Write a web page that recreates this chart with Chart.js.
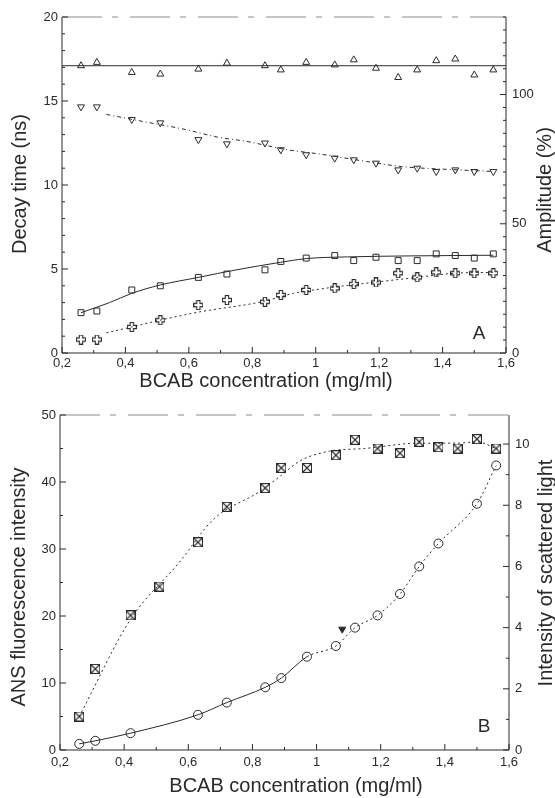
<!DOCTYPE html>
<html>
<head>
<meta charset="utf-8">
<script src="https://cdn.jsdelivr.net/npm/chart.js@4.4.1/dist/chart.umd.min.js"></script>
<style>
  body { margin: 0; background: #fff; }
  canvas { display: block; }
</style>
</head>
<body>
<canvas id="chartA" width="555" height="399"></canvas>
<canvas id="chartB" width="555" height="399"></canvas>
<script>
// concentrations (mg/ml), shared by both panels
const conc = [0.26, 0.31, 0.42, 0.51, 0.63, 0.72, 0.84, 0.89, 0.97, 1.06, 1.12, 1.19, 1.26, 1.32, 1.38, 1.44, 1.50, 1.56];

// panel A - decay times (ns)
const upTri = [17.1, 17.3, 16.7, 16.6, 16.9, 17.25, 17.1, 16.85, 17.3, 17.15, 17.45, 16.95, 16.4, 16.85, 17.4, 17.5, 16.55, 16.85];
const downTri = [14.65, 14.65, 13.9, 13.7, 12.7, 12.45, 12.5, 12.1, 11.8, 11.6, 11.5, 11.3, 10.9, 11.0, 10.8, 10.9, 10.8, 10.8];
const squares = [2.4, 2.5, 3.75, 4.0, 4.5, 4.7, 4.95, 5.45, 5.65, 5.8, 5.5, 5.7, 5.5, 5.5, 5.9, 5.8, 5.65, 5.9];
const crosses = [0.8, 0.8, 1.55, 1.95, 2.85, 3.15, 3.05, 3.45, 3.75, 3.85, 4.1, 4.2, 4.75, 4.5, 4.8, 4.75, 4.75, 4.75];

// panel A - fitted curves
const fitUpX = [0.2, 1.6];
const fitUpY = [17.1, 17.1];
const fitDownX = [0.34, 0.45, 0.59, 0.69, 0.78, 0.91, 1.01, 1.16, 1.27, 1.45, 1.56];
const fitDownY = [14.2, 13.8, 13.3, 12.85, 12.6, 12.1, 11.85, 11.4, 11.1, 10.9, 10.8];
const fitSqX = [0.26, 0.35, 0.42, 0.51, 0.63, 0.75, 0.89, 0.97, 1.1, 1.3, 1.56];
const fitSqY = [2.4, 3.0, 3.55, 4.05, 4.5, 4.95, 5.4, 5.62, 5.72, 5.78, 5.82];
const fitCrX = [0.34, 0.42, 0.52, 0.635, 0.83, 0.93, 1.03, 1.18, 1.32, 1.44, 1.56];
const fitCrY = [1.2, 1.55, 2.0, 2.45, 3.05, 3.55, 3.85, 4.2, 4.5, 4.75, 4.8];

// panel B - ANS fluorescence (left axis) and scattered light (right axis)
const ansFluo = [5.0, 12.1, 20.1, 24.4, 31.0, 36.3, 39.1, 42.1, 42.1, 44.0, 46.3, 45.0, 44.3, 46.0, 45.2, 45.0, 46.4, 45.0];
const fitAnsX = [0.26, 0.42, 0.57, 0.68, 0.82, 0.89, 0.95, 1.04, 1.15, 1.32, 1.44, 1.50, 1.56];
const fitAnsY = [5.0, 19.5, 27.9, 34.5, 38.5, 41.0, 43.2, 44.6, 45.0, 45.8, 45.8, 46.0, 45.0];
const scatX = [0.26, 0.31, 0.42, 0.63, 0.72, 0.84, 0.89, 0.97, 1.06, 1.12, 1.19, 1.26, 1.32, 1.38, 1.50, 1.56];
const scatY = [0.2, 0.3, 0.55, 1.15, 1.55, 2.05, 2.35, 3.05, 3.4, 4.0, 4.4, 5.1, 6.0, 6.75, 8.05, 9.3];
const filledX = [1.08];
const filledY = [3.95];

// axis ticks
const xTicks = [0.2, 0.4, 0.6, 0.8, 1.0, 1.2, 1.4, 1.6];
const ampTicks = [0, 50, 100];
const scatTicks = [0, 2, 4, 6, 8, 10];

const ink = "#2a2a2a";
const font = "'Liberation Sans', Arial, sans-serif";

function pts(xs, ys) {
  return xs.map((x, i) => ({ x: x, y: ys[i] }));
}

// hollow plus marker
function plusMarker(size) {
  const c = document.createElement("canvas");
  c.width = c.height = size;
  const g = c.getContext("2d");
  const a = size / 3, b = (2 * size) / 3, e = size - 0.5, s = 0.5;
  g.strokeStyle = ink;
  g.lineWidth = 1.1;
  g.beginPath();
  g.moveTo(a, s); g.lineTo(b, s); g.lineTo(b, a); g.lineTo(e, a); g.lineTo(e, b);
  g.lineTo(b, b); g.lineTo(b, e); g.lineTo(a, e); g.lineTo(a, b); g.lineTo(s, b);
  g.lineTo(s, a); g.lineTo(a, a); g.closePath();
  g.stroke();
  return c;
}

// square with crossed diagonals
function boxMarker(size) {
  const c = document.createElement("canvas");
  c.width = c.height = size;
  const g = c.getContext("2d");
  g.strokeStyle = ink;
  g.lineWidth = 1.1;
  g.strokeRect(0.5, 0.5, size - 1, size - 1);
  g.beginPath();
  g.moveTo(1, 1); g.lineTo(size - 1, size - 1);
  g.moveTo(size - 1, 1); g.lineTo(1, size - 1);
  g.stroke();
  return c;
}

const xFmt = (v) => (Math.round(v * 10) / 10).toString().replace(".", ",");

// frame, inward ticks and titles
const frameTicks = {
  id: "frameTicks",
  afterDraw(chart, args, opts) {
    const ctx = chart.ctx;
    const a = chart.chartArea;
    ctx.save();
    ctx.strokeStyle = ink;
    ctx.lineWidth = 1;
    ctx.beginPath();
    ctx.moveTo(a.left, a.top); ctx.lineTo(a.left, a.bottom); ctx.lineTo(a.right, a.bottom); ctx.lineTo(a.right, a.top);
    ctx.stroke();
    ctx.strokeStyle = "#8a8a8a";
    ctx.setLineDash([40, 10, 6, 12]);
    ctx.beginPath();
    ctx.moveTo(a.left, a.top); ctx.lineTo(a.right, a.top);
    ctx.stroke();
    ctx.setLineDash([]);
    ctx.strokeStyle = ink;

    Object.values(chart.scales).forEach((s) => {
      const step = opts.minor[s.id];
      const majors = s.ticks.map((t) => t.value);
      for (let v = s.min; v <= s.max + 1e-6; v += step) {
        const isMajor = majors.some((m) => Math.abs(m - v) < 1e-6);
        const len = isMajor ? 6 : 3;
        const p = s.getPixelForValue(v);
        ctx.beginPath();
        if (s.id === "x") { ctx.moveTo(p, a.bottom); ctx.lineTo(p, a.bottom - len); }
        else if (s.id === "y") { ctx.moveTo(a.left, p); ctx.lineTo(a.left + len, p); }
        else { ctx.moveTo(a.right, p); ctx.lineTo(a.right - len, p); }
        ctx.stroke();
      }
    });

    ctx.fillStyle = ink;
    ctx.font = "20px " + font;
    ctx.textAlign = "center";
    ctx.textBaseline = "middle";
    ctx.fillText(opts.xTitle, opts.xTitlePos[0], opts.xTitlePos[1]);
    [["left", opts.yTitle, opts.yTitlePos], ["right", opts.y2Title, opts.y2TitlePos]].forEach((t) => {
      ctx.save();
      ctx.translate(t[2][0], t[2][1]);
      ctx.rotate(-Math.PI / 2);
      ctx.fillText(t[1], 0, 0);
      ctx.restore();
    });
    ctx.font = "19px " + font;
    ctx.fillText(opts.letter, opts.letterPos[0], opts.letterPos[1]);
    ctx.restore();
  },
};

function makeScales(left, right, bottom, yMax, yStep, y2Max, y2Ticks, xPad) {
  return {
    x: {
      type: "linear", min: 0.2, max: 1.6,
      afterBuildTicks: (s) => { s.ticks = xTicks.map((v) => ({ value: v })); },
      afterFit: (s) => { s.height = 399 - bottom; },
      grid: { display: false, drawTicks: false },
      border: { display: false },
      ticks: { color: ink, font: { size: 13, family: font }, padding: xPad, callback: xFmt, maxRotation: 0 },
    },
    y: {
      type: "linear", position: "left", min: 0, max: yMax,
      ticks: { stepSize: yStep, color: ink, font: { size: 13, family: font }, padding: 4 },
      afterFit: (s) => { s.width = left; },
      grid: { display: false, drawTicks: false },
      border: { display: false },
    },
    y2: {
      type: "linear", position: "right", min: 0, max: y2Max,
      afterBuildTicks: (s) => { s.ticks = y2Ticks.map((v) => ({ value: v })); },
      ticks: { color: ink, font: { size: 13, family: font }, padding: 6 },
      afterFit: (s) => { s.width = 555 - right; },
      grid: { display: false, drawTicks: false },
      border: { display: false },
    },
  };
}

const fitLine = (data, dash, axis) => ({
  data: data, showLine: true, pointRadius: 0, borderColor: ink, borderWidth: 1,
  borderDash: dash, cubicInterpolationMode: "monotone", yAxisID: axis || "y",
});

const marks = (data, style, radius, rot, axis) => ({
  data: data, showLine: false, pointStyle: style, pointRadius: radius, pointRotation: rot || 0,
  pointBorderColor: ink, pointBackgroundColor: "rgba(0,0,0,0)", pointBorderWidth: 1, yAxisID: axis || "y",
});

var ctxA = document.getElementById("chartA").getContext("2d");
var chartA = new Chart(ctxA, {
  type: "scatter",
  data: {
    datasets: [
      fitLine(pts(fitUpX, fitUpY), []),
      fitLine(pts(fitDownX, fitDownY), [4, 3, 1, 3]),
      fitLine(pts(fitSqX, fitSqY), []),
      fitLine(pts(fitCrX, fitCrY), [2, 3]),
      marks(pts(conc, upTri), "triangle", 4),
      marks(pts(conc, downTri), "triangle", 4, 180),
      marks(pts(conc, squares), "rect", 4.2),
      marks(pts(conc, crosses), plusMarker(10), 5),
    ],
  },
  options: {
    responsive: false,
    animation: false,
    layout: { padding: { top: 17, left: 0, right: 0, bottom: 0 } },
    plugins: {
      legend: { display: false },
      tooltip: { enabled: false },
      frameTicks: {
        minor: { x: 0.1, y: 1, y2: 5 },
        xTitle: "BCAB concentration (mg/ml)", xTitlePos: [266, 381],
        yTitle: "Decay time (ns)", yTitlePos: [20, 184],
        y2Title: "Amplitude (%)", y2TitlePos: [545, 190],
        letter: "A", letterPos: [479, 334],
      },
    },
    scales: makeScales(62, 506, 353, 20, 5, 130, ampTicks, 3),
  },
  plugins: [frameTicks],
});

var ctxB = document.getElementById("chartB").getContext("2d");
var chartB = new Chart(ctxB, {
  type: "scatter",
  data: {
    datasets: [
      fitLine(pts(fitAnsX, fitAnsY), [2, 3]),
      {
        data: pts(scatX, scatY), showLine: true, pointRadius: 0, borderColor: ink, borderWidth: 1,
        cubicInterpolationMode: "monotone", yAxisID: "y2",
        segment: { borderDash: (c) => (c.p0.parsed.x >= 0.9 ? [2, 3] : undefined) },
      },
      marks(pts(conc, ansFluo), boxMarker(10), 5),
      marks(pts(scatX, scatY), "circle", 4.5, 0, "y2"),
      {
        data: pts(filledX, filledY), showLine: false, pointStyle: "triangle", pointRotation: 180,
        pointRadius: 4, pointBackgroundColor: ink, pointBorderColor: ink, yAxisID: "y2",
      },
    ],
  },
  options: {
    responsive: false,
    animation: false,
    layout: { padding: { top: 16, left: 0, right: 0, bottom: 0 } },
    plugins: {
      legend: { display: false },
      tooltip: { enabled: false },
      frameTicks: {
        minor: { x: 0.1, y: 5, y2: 1 },
        xTitle: "BCAB concentration (mg/ml)", xTitlePos: [296, 387],
        yTitle: "ANS fluorescence intensity", yTitlePos: [19, 188],
        y2Title: "Intensity of scattered light", y2TitlePos: [546, 174],
        letter: "B", letterPos: [484, 328],
      },
    },
    scales: makeScales(60, 509, 351, 50, 10, 10.95, scatTicks, 5),
  },
  plugins: [frameTicks],
});
</script>
</body>
</html>
